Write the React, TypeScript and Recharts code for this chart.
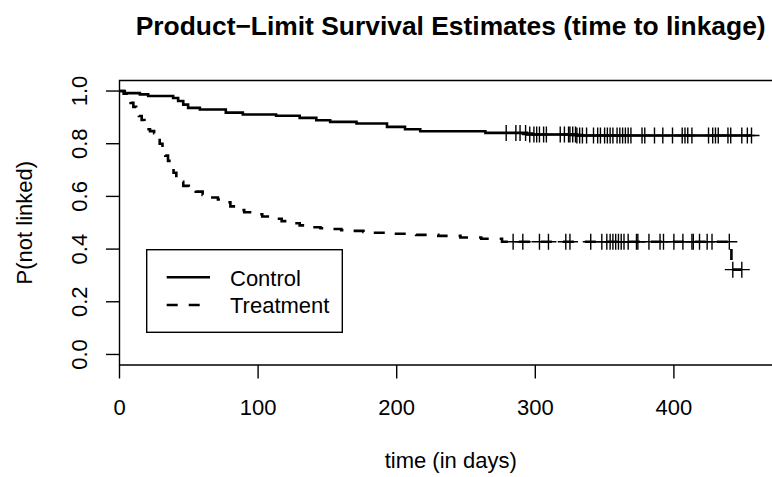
import React from "react";
import {
  ComposedChart,
  Line,
  Scatter,
  XAxis,
  YAxis,
  ReferenceArea,
} from "recharts";

// Kaplan-Meier step points (time in days, survival)
const controlTimes = [0, 3.8, 14.7, 20.7, 38.7, 42.3, 46, 49.5, 58, 76.7, 89, 113, 130, 142, 152, 171, 193, 206, 217, 264, 294, 330, 456];
const controlSurv = [1.0, 0.992, 0.9875, 0.981, 0.9735, 0.962, 0.9485, 0.936, 0.93, 0.918, 0.911, 0.906, 0.898, 0.889, 0.883, 0.877, 0.864, 0.855, 0.8475, 0.841, 0.835, 0.831, 0.831];

const treatTimes = [0, 3, 6, 8, 10, 12, 14, 16, 18, 20, 22, 25, 27, 29, 31, 33, 35, 37, 39, 41, 43, 46, 50, 55, 60, 66, 71, 75, 80, 85, 90, 96, 103, 110, 117, 123, 130, 136, 145, 152, 160, 168, 176, 183, 197, 214, 230, 246, 261, 276, 441.5, 449];
const treatSurv = [1.0, 0.99, 0.975, 0.955, 0.94, 0.92, 0.905, 0.89, 0.87, 0.855, 0.848, 0.84, 0.82, 0.8, 0.78, 0.755, 0.735, 0.71, 0.69, 0.67, 0.655, 0.64, 0.63, 0.618, 0.606, 0.596, 0.588, 0.578, 0.562, 0.548, 0.54, 0.532, 0.524, 0.515, 0.506, 0.498, 0.49, 0.483, 0.479, 0.476, 0.472, 0.469, 0.465, 0.462, 0.458, 0.454, 0.45, 0.444, 0.439, 0.428, 0.322, 0.322];

// censoring times (+ marks)
const controlCensor = [279, 286, 289, 293, 296, 299, 301, 303, 306, 308, 318, 321, 324, 325, 327, 329, 330, 332, 334, 337, 342, 345, 347, 350, 352, 354, 356, 359, 361, 363, 365, 367, 369, 377, 379, 386, 392, 399, 406, 408, 410, 413, 425, 428, 430, 432, 439, 441, 449, 453, 456];
const treatCensor = [284, 291, 303, 309.5, 322, 325, 340, 348, 351.6, 354, 356, 358, 360, 362, 364, 367, 373, 374, 382, 390, 392.5, 400, 406.5, 413, 414, 418.5, 424, 427.5, 440, 442.5, 449];

const xTicks = [0, 100, 200, 300, 400];
const yTicks = [0, 0.2, 0.4, 0.6, 0.8, 1.0];

const FONT = "'Liberation Sans', Arial, Helvetica, sans-serif";

const toSteps = (times: number[], surv: number[]) =>
  times.map((t, i) => ({ t, s: surv[i] }));

// survival value of the step curve at a given time
const survAt = (times: number[], surv: number[], t: number) => {
  let v = surv[0];
  for (let i = 0; i < times.length; i++) {
    if (times[i] <= t) v = surv[i];
  }
  return v;
};

const controlData = toSteps(controlTimes, controlSurv);
const treatData = toSteps(treatTimes, treatSurv);
const controlMarks = controlCensor.map((t) => ({ t, s: survAt(controlTimes, controlSurv, t) }));
const treatMarks = treatCensor.map((t) => ({ t, s: survAt(treatTimes, treatSurv, t) }));

const Plus = (props: any) => {
  const { cx, cy } = props;
  if (cx == null || cy == null) return null;
  return (
    <path
      d={`M${cx - 8},${cy}H${cx + 8}M${cx},${cy - 8}V${cy + 8}`}
      stroke="#000"
      strokeWidth={1.4}
      fill="none"
    />
  );
};

const XTick = (props: any) => {
  const { x, payload } = props;
  return (
    <text x={x} y={415} textAnchor="middle" fontSize={22} fontFamily={FONT} fill="#000">
      {payload.value}
    </text>
  );
};

const YTick = (props: any) => {
  const { y, payload } = props;
  return (
    <text
      x={87}
      y={y}
      textAnchor="middle"
      fontSize={22}
      fontFamily={FONT}
      fill="#000"
      transform={`rotate(-90, 87, ${y})`}
    >
      {Number(payload.value).toFixed(1)}
    </text>
  );
};

export default function App() {
  return (
    <div
      style={{
        position: "absolute",
        left: 0,
        top: 0,
        width: 772,
        height: 477,
        overflow: "hidden",
        background: "#fff",
      }}
    >
      <ComposedChart
        width={790}
        height={477}
        margin={{ top: 80.5, right: 8, bottom: 0, left: 0 }}
      >
        <XAxis
          dataKey="t"
          type="number"
          domain={[0, 478]}
          allowDataOverflow
          ticks={xTicks}
          tick={<XTick />}
          tickSize={13.5}
          tickLine={{ stroke: "#000", strokeWidth: 1.4 }}
          axisLine={false}
          height={112}
        />
        <YAxis
          dataKey="s"
          type="number"
          domain={[-0.04, 1.04]}
          allowDataOverflow
          ticks={yTicks}
          tick={<YTick />}
          tickSize={13.5}
          tickLine={{ stroke: "#000", strokeWidth: 1.4 }}
          axisLine={false}
          width={119.5}
        />
        <ReferenceArea
          x1={0}
          x2={478}
          y1={-0.04}
          y2={1.04}
          fill="none"
          stroke="#000"
          strokeWidth={1.4}
        />
        <Line
          data={controlData}
          dataKey="s"
          type="stepAfter"
          stroke="#000"
          strokeWidth={2.6}
          dot={false}
          activeDot={false}
          isAnimationActive={false}
        />
        <Line
          data={treatData}
          dataKey="s"
          type="stepAfter"
          stroke="#000"
          strokeWidth={2.6}
          strokeDasharray="11 11"
          dot={false}
          activeDot={false}
          isAnimationActive={false}
        />
        <Scatter data={controlMarks} dataKey="s" shape={<Plus />} isAnimationActive={false} />
        <Scatter data={treatMarks} dataKey="s" shape={<Plus />} isAnimationActive={false} />
      </ComposedChart>

      <svg
        width={772}
        height={477}
        style={{ position: "absolute", left: 0, top: 0, pointerEvents: "none" }}
      >
        <text x={450.7} y={35} textAnchor="middle" fontSize={26.4} fontWeight="bold" fontFamily={FONT} fill="#000">
          Product−Limit Survival Estimates (time to linkage)
        </text>
        <text x={450.7} y={468} textAnchor="middle" fontSize={22} fontFamily={FONT} fill="#000">
          time (in days)
        </text>
        <text
          x={32}
          y={222.7}
          textAnchor="middle"
          fontSize={22}
          fontFamily={FONT}
          fill="#000"
          transform="rotate(-90, 32, 222.7)"
        >
          P(not linked)
        </text>
        <rect x={146.7} y={249.7} width={195.6} height={82.6} fill="none" stroke="#000" strokeWidth={1.4} />
        <line x1={166.7} x2={210} y1={277.3} y2={277.3} stroke="#000" strokeWidth={2.6} />
        <line x1={166.7} x2={210} y1={305} y2={305} stroke="#000" strokeWidth={2.6} strokeDasharray="11 11" />
        <text x={230} y={286} fontSize={22} fontFamily={FONT} fill="#000">Control</text>
        <text x={230} y={313} fontSize={22} fontFamily={FONT} fill="#000">Treatment</text>
      </svg>
    </div>
  );
}
